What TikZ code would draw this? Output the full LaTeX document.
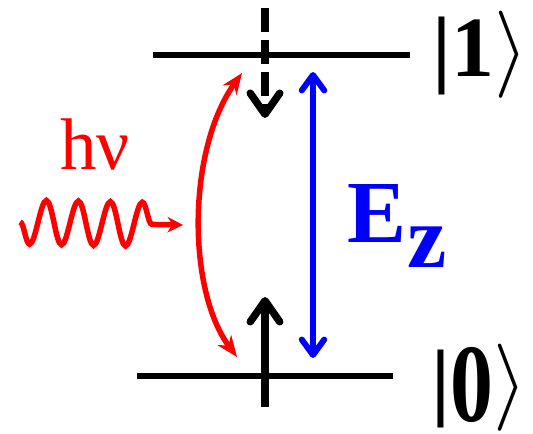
\documentclass[tikz,border=0pt]{standalone}
\usepackage{fontspec}
\setmainfont{Liberation Serif}
\usetikzlibrary{arrows.meta,positioning,decorations.pathmorphing}
\definecolor{photonred}{RGB}{255, 0, 0}
\definecolor{fieldblue}{RGB}{0, 0, 255}
\newcommand{\bigket}{\scalebox{6.2}{\normalsize$\rangle$}}

\begin{document}
\begin{tikzpicture}[
  level/.style={line width=4.3pt},
  spin/.style={line width=5.3pt, -{Straight Barb[length=15pt, width=21pt, round]}},
  ket/.style={font=\fontsize{61}{61}\selectfont\bfseries, inner sep=0pt},
]
\useasboundingbox (0,0) rectangle (13.325,10.85);

% Levels
\coordinate (l1a) at (3.825, 9.475);
\coordinate (l1b) at (10.25, 9.475);
\coordinate (l0a) at (3.425, 1.45);
\coordinate (l0b) at (9.825, 1.45);
\draw[level] (l1a) -- (l1b);
\draw[level] (l0a) -- (l0b);

\node[ket, right=0.55cm of l1b] (ket1) {|1\bigket};
\node[ket, right=0.95cm of l0b, yshift=-0.3cm] (ket0) {|\raisebox{-8pt}{\scalebox{1}[1.3]{0}}\bigket};

% Spin arrows
\coordinate (s1a) at (6.625, 10.65);
\coordinate (s1b) at (6.625, 7.9);
\coordinate (s0a) at (6.625, 0.675);
\coordinate (s0b) at (6.625, 3.425);
\draw[spin, dash pattern=on 17pt off 5.7pt] (s1a) -- (s1b);
\draw[spin] (s0a) -- (s0b);

% Zeeman splitting
\coordinate (ea) at (7.825, 9.05);
\coordinate (eb) at (7.825, 1.9);
\draw[fieldblue, line width=4.25pt, {Straight Barb[length=11pt, width=16pt, round]}-{Straight Barb[length=11pt, width=16pt, round]}] (ea) -- (eb);
\node[font=\fontsize{63}{63}\selectfont\bfseries, text=fieldblue, anchor=base west, inner sep=0pt] (ez) at (8.675, 4.775) {E\kern1pt\raisebox{-17.7pt}{z}};

% Photon
\coordinate (ra) at (6.05, 9.025);
\coordinate (rb) at (5.925, 1.925);
\draw[photonred, line width=3.9pt, {Stealth[length=15pt, width=12pt]}-{Stealth[length=15pt, width=12pt]}] (ra) .. controls (4.675, 7.1) and (4.675, 3.6) .. (rb);
\coordinate (wa) at (0.5, 5.3);
\coordinate (wb) at (4.575, 5.225);
\draw[photonred, line width=3.9pt, -{Stealth[length=11pt, width=11pt]}, decorate, decoration={snake, segment length=0.8cm, amplitude=-0.55cm, post length=0.75cm}] (wa) -- (wb);
\node[font=\fontsize{52}{52}\selectfont, text=photonred, anchor=base, inner sep=0pt] (hnu) at (2.375, 6.6) {hν};
\end{tikzpicture}
\end{document}
